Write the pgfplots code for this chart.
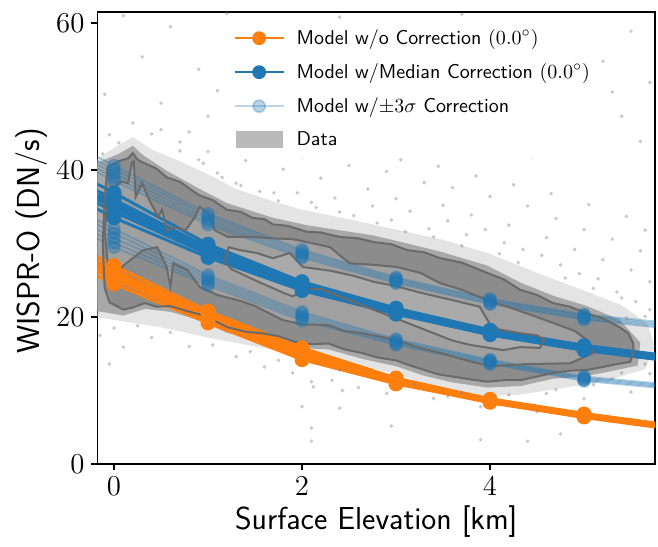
\documentclass[border=0pt]{standalone}
\usepackage{pgfplots}
\pgfplotsset{compat=1.18}
\usepackage{pgfplotstable}
\definecolor{tabblue}{HTML}{1F77B4}
\definecolor{taborange}{HTML}{FF7F0E}
\definecolor{cgray}{HTML}{6A6A6A}
\definecolor{halo}{HTML}{A8A8A8}
\definecolor{halolight}{HTML}{D2D2D2}
\definecolor{legpatch}{HTML}{B9B9B9}
\definecolor{g1}{HTML}{8C8C8C}
\definecolor{g2}{HTML}{A0A0A0}
\definecolor{g3}{HTML}{AAAAAA}

\pgfplotstableread{
x o1 o2 o3 o4 o5
-0.18 28.2 27.6 26.9 26.2 25.6
0 27.0 26.4 25.75 25.1 24.5
1 20.8 20.4 20.0 19.6 19.2
2 15.8 15.4 15.0 14.6 14.2
3 11.7 11.5 11.3 11.1 10.9
4 8.8 8.7 8.6 8.5 8.4
5 6.8 6.7 6.6 6.5 6.4
5.76 5.5 5.4 5.3 5.2 5.1
}\orangetab

\pgfplotstableread{
x m1 m2 m3 m4 m5
-0.18 38.1 37.2 36.4 35.5 34.7
0 36.9 36.0 35.2 34.3 33.5
1 29.9 29.45 29.0 28.55 28.1
2 24.8 24.5 24.2 23.9 23.6
3 21.2 21.0 20.8 20.6 20.4
4 18.2 18.05 17.9 17.75 17.6
5 16.1 15.95 15.8 15.65 15.5
5.76 14.9 14.75 14.6 14.45 14.3
}\mediantab

\pgfplotstableread{
x u1 u2 u3 u4 u5
-0.18 41.8 41.3 40.75 40.2 39.7
0 40.6 40.1 39.55 39.0 38.5
1 34.05 33.7 33.3 32.9 32.55
2 29.15 28.9 28.6 28.3 28.05
3 25.4 25.2 25.0 24.8 24.6
4 22.45 22.3 22.1 21.9 21.75
5 20.35 20.2 20.0 19.8 19.65
5.76 19.4 19.2 19.0 18.8 18.6
}\uppertab

\pgfplotstableread{
x l1 l2 l3 l4 l5
-0.18 33.2 32.6 31.9 31.3 30.7
0 32.0 31.4 30.75 30.1 29.5
1 25.7 25.35 25.0 24.65 24.3
2 20.7 20.4 20.1 19.8 19.5
3 17.0 16.8 16.6 16.4 16.2
4 14.2 14.05 13.9 13.75 13.6
5 11.9 11.75 11.6 11.45 11.3
5.76 11.0 10.85 10.7 10.55 10.4
}\lowertab

\pgfplotstableread{
x y
-0.18 41.5
0.0 43.0
0.2 44.5
0.4 42.8
0.7 41.2
1.0 39.4
1.3 37.4
1.7 35.7
2.0 34.6
2.5 33.3
3.0 31.9
3.5 30.5
4.0 28.6
4.5 26.0
5.0 23.6
5.4 21.6
5.68 19.0
5.75 16.0
5.65 12.9
5.2 11.2
4.8 10.4
4.3 9.4
3.9 9.2
3.5 10.0
3.0 12.3
2.5 13.6
2.0 14.8
1.5 16.0
1.0 17.2
0.5 18.6
0.1 19.4
-0.18 20.0
-0.18 41.5
}\halotab

\pgfplotstableread{
x y
-0.18 41.0
0.05 42.2
0.2 43.3
0.31 42.0
0.56 39.9
0.9 37.5
1.2 35.5
1.47 34.4
1.69 33.5
2.05 32.5
2.4 31.8
2.76 31.1
3.12 30.0
3.47 28.9
3.97 27.0
4.32 24.7
4.67 22.9
5.03 21.5
5.38 19.6
5.6 16.5
5.57 13.4
5.2 12.4
5.03 12.0
4.67 11.6
4.32 10.6
3.97 10.4
3.6 11.1
3.3 12.0
3.0 13.3
2.64 14.3
2.28 15.6
1.93 15.8
1.57 17.0
1.21 17.8
0.9 19.6
0.6 20.7
0.33 21.1
0.1 20.2
-0.18 20.8
-0.18 41.0
}\innerhalo

\pgfplotstableread{
x y
-0.07 40.4
0.05 41.2
0.15 41.6
0.2 42.3
0.25 41.4
0.31 41.0
0.45 40.2
0.56 39.0
0.7 38.4
0.9 36.6
1.05 35.9
1.2 34.6
1.35 34.3
1.47 33.5
1.6 33.3
1.69 32.6
1.85 32.4
2.05 31.6
2.2 31.5
2.4 30.9
2.6 30.7
2.76 30.2
2.95 29.9
3.12 29.1
3.3 28.8
3.47 28.0
3.7 27.4
3.97 26.0
4.15 25.1
4.32 23.7
4.5 23.0
4.67 21.9
4.85 21.4
5.03 20.5
5.2 19.8
5.38 18.6
5.47 17.8
5.52 16.5
5.53 15.2
5.49 13.9
5.35 13.6
5.2 13.2
5.03 12.8
4.85 12.7
4.67 12.4
4.5 11.9
4.32 11.4
4.15 11.4
3.97 11.2
3.8 11.5
3.6 11.9
3.45 12.2
3.3 12.8
3.15 13.4
3.0 14.1
2.8 14.5
2.64 15.1
2.45 15.6
2.28 16.4
2.1 16.3
1.93 16.6
1.75 17.4
1.57 17.8
1.4 18.0
1.21 18.6
1.05 19.6
0.9 20.4
0.75 20.9
0.6 21.5
0.45 21.4
0.33 21.9
0.2 21.3
0.1 21.0
-0.05 22.0
-0.1 24.0
-0.12 30.0
-0.1 36.0
-0.07 40.4
}\cone

\pgfplotstableread{
x y
-0.06 26.4
-0.1 31.8
-0.06 36.3
0.01 37.7
0.08 38.4
0.15 38.2
0.19 41.0
0.21 41.2
0.23 36.3
0.3 38.2
0.36 36.3
0.47 33.6
0.51 34.6
0.56 31.8
0.65 32.2
0.76 31.8
0.86 33.6
0.91 35.0
1.0 34.1
1.07 31.8
1.21 30.9
1.47 30.9
1.69 30.7
1.9 30.6
2.05 30.2
2.3 29.5
2.4 28.4
2.51 27.3
2.76 27.1
3.01 26.8
3.26 26.0
3.47 24.6
3.7 23.7
3.97 22.3
4.3 20.9
4.67 19.2
4.9 18.1
5.03 16.9
5.1 15.1
4.85 13.7
4.4 13.6
4.0 13.3
3.75 14.1
3.5 15.0
3.25 15.8
3.0 16.9
2.64 17.8
2.45 18.1
2.28 18.9
2.0 19.0
1.79 19.6
1.5 21.5
1.34 22.2
1.1 23.0
0.91 24.1
0.78 26.4
0.63 27.3
0.6 24.1
0.56 26.8
0.46 29.5
0.31 29.1
0.1 27.0
-0.04 25.0
-0.06 26.4
}\ctwo

\pgfplotstableread{
x y
1.18 27.5
1.22 29.5
1.34 29.1
1.52 28.7
1.69 28.0
1.87 28.7
2.01 26.8
2.3 26.3
2.55 25.6
2.76 24.8
3.0 24.2
3.26 23.3
3.6 22.3
3.89 21.4
4.0 19.0
4.1 18.3
4.32 17.8
4.5 17.5
4.58 16.9
4.53 15.8
4.32 15.9
4.14 15.5
3.79 16.2
3.6 16.8
3.4 17.8
3.1 19.3
2.76 21.0
2.4 22.8
2.2 23.8
2.05 23.8
1.9 22.8
1.8 23.3
1.5 25.0
1.25 26.5
1.18 27.5
}\cthree

\begin{document}
\begin{tikzpicture}
\path[use as bounding box] (0,0) rectangle (329pt,273pt);
\begin{axis}[
  at={(48.75pt,41pt)}, anchor=south west,
  scale only axis, width=278.75pt, height=226pt,
  xmin=-0.176, xmax=5.755, ymin=0, ymax=61.5,
  xtick={0,2,4}, ytick={0,20,40,60},
  tick align=outside, tick pos=left, major tick length=3pt,
  tick style={line width=0.6pt, black},
  axis line style={line width=0.6pt},
  ticklabel style={font=\fontsize{14}{16}\selectfont},
  xlabel={Surface Elevation [km]},
  ylabel={WISPR-O (DN/s)},
  xlabel style={font=\sffamily\fontsize{15.9}{18}\selectfont, at={(axis description cs:0.5,-0.128)}, anchor=center},
  ylabel style={font=\sffamily\fontsize{15.9}{18}\selectfont, at={(axis description cs:-0.1175,0.493)}, anchor=center},
  legend image code/.code={\draw[mark repeat=2,mark phase=2,#1] plot coordinates {(0cm,0cm) (0.43cm,0cm) (0.86cm,0cm)};},
  legend style={at={(axis description cs:0.233,0.985)}, anchor=north west,
    draw=none, fill=white, font=\sffamily\fontsize{10}{12}\selectfont,
    row sep=4pt, inner sep=3pt,
    /tikz/every odd column/.append style={column sep=4pt}},
  legend cell align=left,
  legend entries={{Model w/o Correction $(0.0^\circ)$},{Model w/Median Correction $(0.0^\circ)$},{Model w/$\pm3\sigma$ Correction},{Data}},
]
\addlegendimage{taborange, line width=0.9pt, mark=*, mark size=3pt}
\addlegendimage{tabblue, line width=0.9pt, mark=*, mark size=3pt}
\addlegendimage{tabblue, opacity=0.3, line width=0.9pt, mark=*, mark size=3pt}
\addlegendimage{legend image code/.code={\fill[legpatch] (0.03cm,-0.14cm) rectangle (0.84cm,0.14cm);}}

% sparse data points
\addplot[only marks, mark=*, mark size=0.75pt, gray, opacity=0.3, forget plot] coordinates {
(0.1,61.0) (0.6,59.5) (1.2,61.3) (1.9,58.2) (2.4,60.8) (3.1,59.0) (3.7,61.2) (4.3,57.8) (4.9,60.2) (5.5,58.9)
(0.3,55.4) (0.9,53.7) (1.5,56.6) (2.1,52.9) (2.8,55.1) (3.4,53.2) (4.0,55.9) (4.6,52.6) (5.2,54.8) (5.7,51.9)
(-0.1,50.3) (0.5,49.1) (1.1,50.8) (1.7,48.4) (2.3,49.7) (2.9,47.9) (3.5,50.1) (4.1,48.6) (4.8,49.4) (5.4,47.3)
(0.2,46.4) (0.8,45.2) (1.3,46.9) (1.9,44.6) (2.6,45.8) (3.2,44.1) (3.9,46.2) (4.5,44.5) (5.1,45.7) (5.6,43.9)
(0.7,43.8) (1.0,42.5) (1.4,41.3) (1.6,43.2) (1.8,40.1) (2.0,41.8) (2.2,38.9) (2.5,40.6) (2.7,37.4) (2.9,39.8)
(3.0,36.1) (3.3,38.3) (3.5,35.2) (3.6,37.6) (3.8,33.9) (4.0,36.4) (4.2,32.5) (4.4,35.1) (4.6,30.8) (4.7,33.4)
(4.9,29.2) (5.0,31.9) (5.2,27.8) (5.3,30.6) (5.5,26.4) (5.6,29.0) (5.7,24.8)
(1.1,39.6) (1.3,38.2) (1.7,36.9) (2.1,35.6) (2.4,34.3) (2.8,32.8) (3.1,31.6) (3.4,30.9) (3.7,29.7) (4.1,28.6)
(4.3,27.4) (4.8,25.3) (5.1,23.9) (5.4,22.6) (5.7,21.0)
(0.4,44.9) (0.05,43.7) (-0.12,42.2) (-0.05,44.8) (0.9,41.4)
(0.5,45.5) (0.7,42.6) (0.95,40.9) (1.15,39.0) (1.35,37.9) (1.55,37.1) (1.75,35.8) (1.95,36.9) (2.15,34.9) (2.35,36.2)
(2.55,33.8) (2.75,35.1) (2.95,33.2) (3.15,34.4) (3.35,32.0) (3.55,33.1) (3.75,31.2) (3.95,31.9) (4.15,30.1) (4.35,29.2)
(4.55,28.4) (4.75,27.1) (4.95,25.9) (5.15,25.2) (5.35,23.4) (5.55,22.1) (5.65,20.1) (5.45,19.9)
(1.0,47.3) (1.45,44.8) (2.25,43.1) (2.65,42.2) (3.05,41.4) (3.45,40.5) (3.85,39.2) (4.25,38.0) (4.65,36.8) (5.05,35.3)
(5.45,33.7) (5.65,31.8) (4.45,41.8) (3.65,43.9) (2.85,44.7) (1.25,52.2) (2.05,56.1) (3.25,57.0) (4.45,53.8) (5.3,50.6)
(0.4,17.2) (0.8,16.0) (1.3,14.6) (1.6,13.2) (1.9,12.4) (2.1,11.2) (2.4,12.8) (2.6,10.4) (2.9,9.6) (3.2,10.8)
(3.4,8.9) (3.7,9.7) (3.9,7.8) (4.2,9.4) (4.5,7.1) (4.7,10.1) (5.0,8.9) (5.3,11.6) (5.5,9.8) (5.7,12.3)
(2.1,3.1) (3.9,3.3) (4.4,3.1) (4.75,4.1) (2.95,5.2) (-0.15,17.5) (0.1,15.9) (-0.05,13.6)
(2.0,7.8) (2.1,4.9) (2.43,10.0) (2.4,7.6) (2.12,10.5) (2.32,11.4)
(0.25,18.8) (0.6,17.9) (1.05,16.2) (1.45,15.3) (1.75,14.1) (3.05,11.2) (3.55,9.2) (4.05,9.1) (4.6,9.6) (5.1,10.8)
(5.4,12.4) (5.65,13.6) (0.0,18.5)
};

% density fills
\addplot[fill=halolight, draw=none, opacity=0.6, forget plot] table[x=x,y=y] {\halotab};
\addplot[fill=halo, draw=none, forget plot] table[x=x,y=y] {\innerhalo};
\addplot[fill=g1, draw=none, forget plot] table[x=x,y=y] {\cone};
\addplot[fill=g2, draw=none, forget plot] table[x=x,y=y] {\ctwo};
\addplot[fill=g3, draw=none, forget plot] table[x=x,y=y] {\cthree};

% +-3 sigma models
\foreach \c in {u1,u2,u3,u4,u5} {
\addplot[tabblue, opacity=0.35, line width=0.9pt, mark=*, mark size=3pt, mark indices={1,2,3,4,5,6}, forget plot] table[x=x,y=\c] {\uppertab};
}
\foreach \c in {l1,l2,l3,l4,l5} {
\addplot[tabblue, opacity=0.35, line width=0.9pt, mark=*, mark size=3pt, mark indices={1,2,3,4,5,6}, forget plot] table[x=x,y=\c] {\lowertab};
}
% median models
\foreach \c in {m1,m2,m3,m4,m5} {
\addplot[tabblue, line width=1.5pt, mark=*, mark size=3pt, mark indices={1,2,3,4,5,6}, forget plot] table[x=x,y=\c] {\mediantab};
}
\addplot[tabblue, line width=4pt, forget plot] table[x=x,y=m3] {\mediantab};
% orange models
\foreach \c in {o1,o2,o3,o4,o5} {
\addplot[taborange, line width=1.5pt, mark=*, mark size=3pt, mark indices={1,2,3,4,5,6}, forget plot] table[x=x,y=\c] {\orangetab};
}
\addplot[taborange, line width=3.5pt, forget plot] table[x=x,y=o3] {\orangetab};

% contours
\addplot[cgray, line width=1pt, forget plot] table[x=x,y=y] {\cone};
\addplot[cgray, line width=1pt, forget plot] table[x=x,y=y] {\ctwo};
\addplot[cgray, line width=1pt, forget plot] table[x=x,y=y] {\cthree};
\end{axis}
\end{tikzpicture}
\end{document}
